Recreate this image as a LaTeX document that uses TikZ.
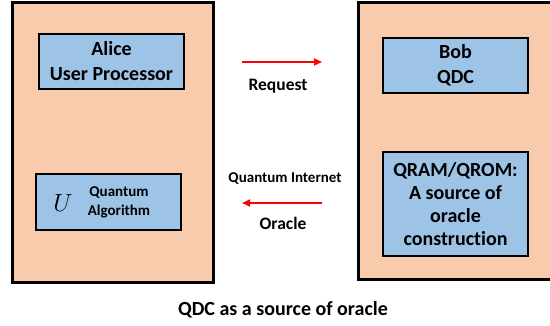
\documentclass[tikz,border=0pt]{standalone}
\usepackage{fontspec}
\setmainfont{Carlito}[Ligatures=NoCommon]
\usetikzlibrary{arrows.meta,positioning}
\definecolor{peach}{RGB}{248,203,173}
\definecolor{lblue}{RGB}{157,195,230}
\definecolor{arrred}{RGB}{255,0,0}
\tikzset{
  outerbox/.style={draw=black,fill=peach,line width=2.6pt},
  innerbox/.style={draw=black,fill=lblue,line width=2.2pt,inner sep=0pt,align=center,font=\bfseries\fontsize{20}{25}\selectfont},
  lbl/.style={inner sep=0pt,align=center,font=\bfseries},
  flow/.style={draw=arrred,line width=1.9pt,-{Triangle[length=8pt,width=7pt]}}
}
\begin{document}
\begin{tikzpicture}[x=1pt,y=-1pt]
\useasboundingbox (0,0) rectangle (550,326);
\fill[white] (0,0) rectangle (550,326);
% outer boxes
\node[outerbox,minimum width=201pt,minimum height=280pt,anchor=north west,inner sep=0pt] (alicebox) at (11,1) {};
\node[outerbox,minimum width=210pt,minimum height=277pt,anchor=north west,inner sep=0pt] (bobbox) at (357,1) {};
% inner boxes
\node[innerbox,minimum width=145pt,minimum height=55pt] (alice) at (111.5,61.5) {Alice\\User Processor};
\node[innerbox,minimum width=145pt,minimum height=56pt] (alg) at (108.5,202) {};
\node[inner sep=0pt,font=\fontsize{26}{28}\selectfont] (U) at (63,203.5) {$U$};
\node[lbl,font=\bfseries\fontsize{15}{19}\selectfont] (algtxt) at (119,202.5) {Quantum\\Algorithm};
\node[innerbox,minimum width=145pt,minimum height=55pt] (bob) at (455.5,65.5) {Bob\\QDC};
\node[innerbox,minimum width=145pt,minimum height=104pt,font=\bfseries\fontsize{20}{23}\selectfont] (qram) at (455.5,204) {QRAM/QROM:\\A source of\\oracle\\construction};
% connectors
\coordinate (r1) at (242,62);
\coordinate (r2) at (322,62);
\coordinate (o1) at (322,203);
\coordinate (o2) at (242,203);
\draw[flow] (r1) -- (r2);
\draw[flow] (o1) -- (o2);
\node[lbl,font=\bfseries\fontsize{17.5}{20}\selectfont] (req) at (278,86) {Request};
\node[lbl,font=\bfseries\fontsize{15}{18}\selectfont] (qi) at (285,178.5) {Quantum Internet};
\node[lbl,font=\bfseries\fontsize{17.5}{20}\selectfont] (orc) at (283,223) {Oracle};
\node[lbl,font=\bfseries\fontsize{20}{24}\selectfont] (cap) at (283,310) {QDC as a source of oracle};
\end{tikzpicture}
\end{document}
